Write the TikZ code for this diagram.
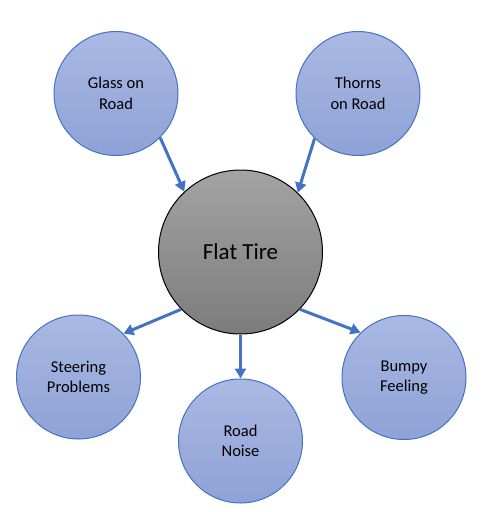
\documentclass[tikz,border=0pt]{standalone}
\usepackage{fontspec}
\setmainfont{Carlito}
\usetikzlibrary{arrows.meta}
\definecolor{edgeblue}{HTML}{4472C4}
\definecolor{topblue}{HTML}{AAB9E4}
\definecolor{botblue}{HTML}{8EA2D6}
\definecolor{topgrey}{HTML}{A3A3A3}
\definecolor{botgrey}{HTML}{7C7C7C}
\tikzset{
  cause/.style={circle, draw=edgeblue, line width=1pt, top color=topblue, bottom color=botblue,
    minimum size=124pt, inner sep=0pt, align=center,
    font=\fontsize{16.5}{20.5}\selectfont},
  hub/.style={circle, draw=black, line width=1pt, top color=topgrey, bottom color=botgrey,
    minimum size=164pt, inner sep=0pt, align=center,
    font=\fontsize{23}{27}\selectfont},
  link/.style={draw=edgeblue, line width=3pt, -{Triangle[length=10pt,width=11pt]}}
}
\begin{document}
\begin{tikzpicture}[x=1pt,y=-1pt]
\useasboundingbox (0,0) rectangle (487,512);
\node[hub] (flat) at (240.5,252) {Flat Tire};
\node[cause] (glass) at (116,93.5) {Glass on\\Road};
\node[cause] (thorns) at (358,93.5) {Thorns\\on Road};
\node[cause] (steer) at (78.5,377) {Steering\\Problems};
\node[cause] (noise) at (240.5,441) {Road\\Noise};
\node[cause] (bumpy) at (404,377.5) {Bumpy\\Feeling};
\draw[link] (glass.-45.6) -- (flat.133.6);
\draw[link] (thorns.-134.4) -- (flat.46.4);
\draw[link] (flat.224) -- (steer.44.7);
\draw[link] (flat.-90) -- (noise.90);
\draw[link] (flat.-44.5) -- (bumpy.134.6);
\end{tikzpicture}
\end{document}
